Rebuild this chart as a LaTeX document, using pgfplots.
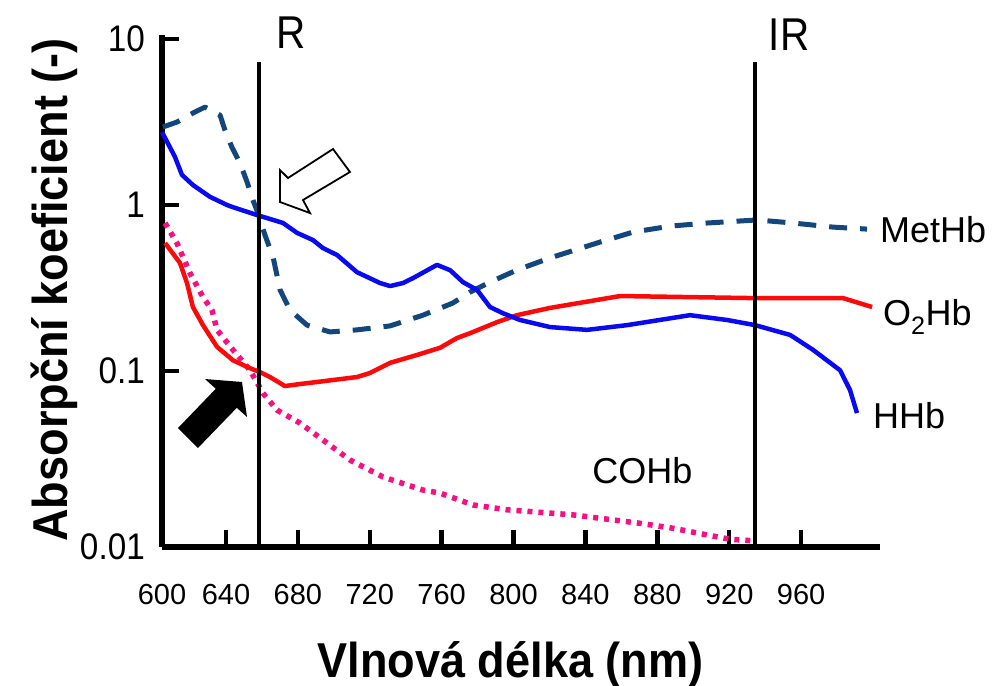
\documentclass[border=0pt]{standalone}
\usepackage{fontspec}
\setmainfont{Liberation Sans}
\newfontfamily\labfont[FakeStretch=0.92]{Liberation Sans}
\newfontfamily\ytfont[FakeStretch=0.9]{Liberation Sans}
\newfontfamily\rfont[FakeStretch=0.88]{Liberation Sans}
\usepackage{pgfplots}
\pgfplotsset{compat=1.18}
\definecolor{hhb}{RGB}{10,10,240}
\definecolor{o2hb}{RGB}{250,10,10}
\definecolor{methb}{RGB}{18,70,125}
\definecolor{cohb}{RGB}{250,15,130}
\begin{document}
\begin{tikzpicture}
\begin{axis}[
  at={(0,0)}, anchor=south west,
  scale only axis, width=718bp, height=512bp,
  xmin=604.4, xmax=1003.9,
  ymode=log, ymin=0.00871, ymax=10.57,
  clip=false,
  axis x line*=bottom, axis y line*=left,
  xtick pos=bottom, ytick pos=left,
  axis line style={line width=5.5bp, black},
  tick align=inside,
  major tick length=17bp,
  every tick/.style={black, line width=4.5bp},
  yminorticks=false, xminorticks=false,
  xtick={604.4,640,680,720,760,800,840,880,920,960},
  xticklabels={600,640,680,720,760,800,840,880,920,960},
  ytick={0.00871,0.1,1,10},
  yticklabels={0.01,0.1,1,10},
  xticklabel style={font=\fontsize{29bp}{32bp}\selectfont, inner sep=0pt, anchor=north, yshift=-37bp},
  yticklabel style={font=\ytfont\fontsize{37bp}{40bp}\selectfont, inner sep=0pt, anchor=east, xshift=-17bp},
  xlabel={Vlnová délka (nm)},
  ylabel={Absorpční koeficient (-)},
  xlabel style={font=\labfont\bfseries\fontsize{49bp}{55bp}\selectfont, at={(axis description cs:0.4854,-0.254)}, anchor=base, inner sep=0pt},
  ylabel style={font=\labfont\bfseries\fontsize{49bp}{55bp}\selectfont, at={(axis description cs:-0.1323,0.502)}, anchor=base, inner sep=0pt},
]
% MetHb
\addplot[methb, line width=5bp, dash pattern=on 18bp off 13bp, line join=round] coordinates {
(604.9,2.95) (612.7,3.16) (621.6,3.58) (628.3,3.89) (636.7,3.48) (639.4,2.83)
(643.3,2.23) (647.8,1.79) (651.7,1.38) (655.0,1.07) (657.8,0.895) (661.7,0.659)
(666.2,0.486) (670.1,0.308) (675.6,0.233) (685.1,0.189) (697.9,0.172) (712.9,0.177)
(731.3,0.187) (749.6,0.217) (766.3,0.257) (775.8,0.299) (786.9,0.343) (801.9,0.406)
(820.3,0.48) (848.1,0.598) (866.5,0.687) (887.1,0.746) (907.7,0.779) (935.5,0.813)
(955.5,0.779) (977.8,0.736) (996.7,0.716)
};
% COHb
\addplot[cohb, line width=5.5bp, dash pattern=on 5bp off 6bp, line join=round] coordinates {
(606.1,0.78) (612.7,0.59) (620.0,0.389) (627.2,0.279) (632.2,0.233) (635.0,0.177)
(643.9,0.134) (653.4,0.101) (660.6,0.0736) (668.4,0.0582) (681.2,0.0486) (694.0,0.0384)
(709.0,0.0291) (727.4,0.023) (749.6,0.0192) (759.1,0.0184) (777.5,0.0156) (796.4,0.0146)
(833.1,0.0136) (870.4,0.0121) (888.7,0.0113) (907.7,0.0103) (920.5,0.0097) (933.3,0.0095)
};
% O2Hb
\addplot[o2hb, line width=4.5bp, line join=round] coordinates {
(606.1,0.59) (614.4,0.448) (618.3,0.339) (621.6,0.243) (627.2,0.189) (635.0,0.140)
(643.9,0.116) (653.4,0.104) (658.9,0.0986) (664.5,0.092) (672.8,0.0812) (681.2,0.0835)
(690.6,0.0859) (712.9,0.092) (720.1,0.0973) (731.3,0.112) (746.3,0.125) (759.1,0.138)
(768.5,0.158) (775.8,0.169) (790.8,0.197) (801.9,0.217) (820.3,0.24) (859.3,0.283)
(933.3,0.275) (983.3,0.275) (999.5,0.243)
};
% HHb
\addplot[hhb, line width=4.5bp, line join=round] coordinates {
(604.4,2.75) (611.6,1.95) (615.5,1.52) (621.6,1.32) (631.1,1.12) (640.6,1.00)
(643.9,0.97) (657.3,0.87) (671.7,0.78) (679.5,0.68) (688.4,0.615) (694.0,0.55)
(701.8,0.50) (712.9,0.394) (725.7,0.339) (731.3,0.325) (738.5,0.339) (744.1,0.363)
(757.4,0.436) (764.7,0.405) (771.9,0.343) (779.7,0.308) (786.9,0.243) (794.1,0.223)
(803.6,0.203) (820.3,0.184) (840.9,0.177) (863.2,0.189) (898.2,0.217) (918.8,0.203)
(934.4,0.189) (953.9,0.165) (966.7,0.134) (981.7,0.101) (987.2,0.0769) (991.1,0.0558)
};
% R and IR lines
\addplot[black, line width=4.5bp] coordinates {(658.4,0.00871) (658.4,7.26)};
\addplot[black, line width=4.5bp] coordinates {(934.4,0.00871) (934.4,7.26)};
% labels
\node[anchor=base, inner sep=0pt, font=\rfont\fontsize{46bp}{50bp}\selectfont] at (rel axis cs:0.1797,0.9746) {R};
\node[anchor=base, inner sep=0pt, font=\rfont\fontsize{46bp}{50bp}\selectfont] at (rel axis cs:0.8733,0.9707) {IR};
\node[anchor=base west, inner sep=0pt, font=\fontsize{36bp}{40bp}\selectfont] at (rel axis cs:1.0,0.594) {MetHb};
\node[anchor=base west, inner sep=0pt, font=\fontsize{36bp}{40bp}\selectfont] at (rel axis cs:1.004,0.4336) {O\textsubscript{2}Hb};
\node[anchor=base west, inner sep=0pt, font=\fontsize{36bp}{40bp}\selectfont] at (rel axis cs:0.990,0.2324) {HHb};
\node[anchor=base west, inner sep=0pt, font=\fontsize{36bp}{40bp}\selectfont] at (rel axis cs:0.599,0.125) {COHb};
% arrows
\fill[black] (rel axis cs:0.0223,0.2324) -- (rel axis cs:0.0749,0.309) -- (rel axis cs:0.0599,0.3281)
  -- (rel axis cs:0.1114,0.3223) -- (rel axis cs:0.1184,0.2539) -- (rel axis cs:0.1042,0.2719)
  -- (rel axis cs:0.0501,0.1934) -- cycle;
\draw[black, line width=1.8bp, fill=white, line join=miter] (rel axis cs:0.1643,0.6738) -- (rel axis cs:0.1643,0.7363)
  -- (rel axis cs:0.1755,0.7207) -- (rel axis cs:0.2382,0.7773) -- (rel axis cs:0.2618,0.7324)
  -- (rel axis cs:0.1964,0.6777) -- (rel axis cs:0.2061,0.6523) -- cycle;
\end{axis}
\pgfresetboundingbox
\path[use as bounding box] (-162bp,-139bp) rectangle (834bp,547bp);
\end{tikzpicture}
\end{document}
